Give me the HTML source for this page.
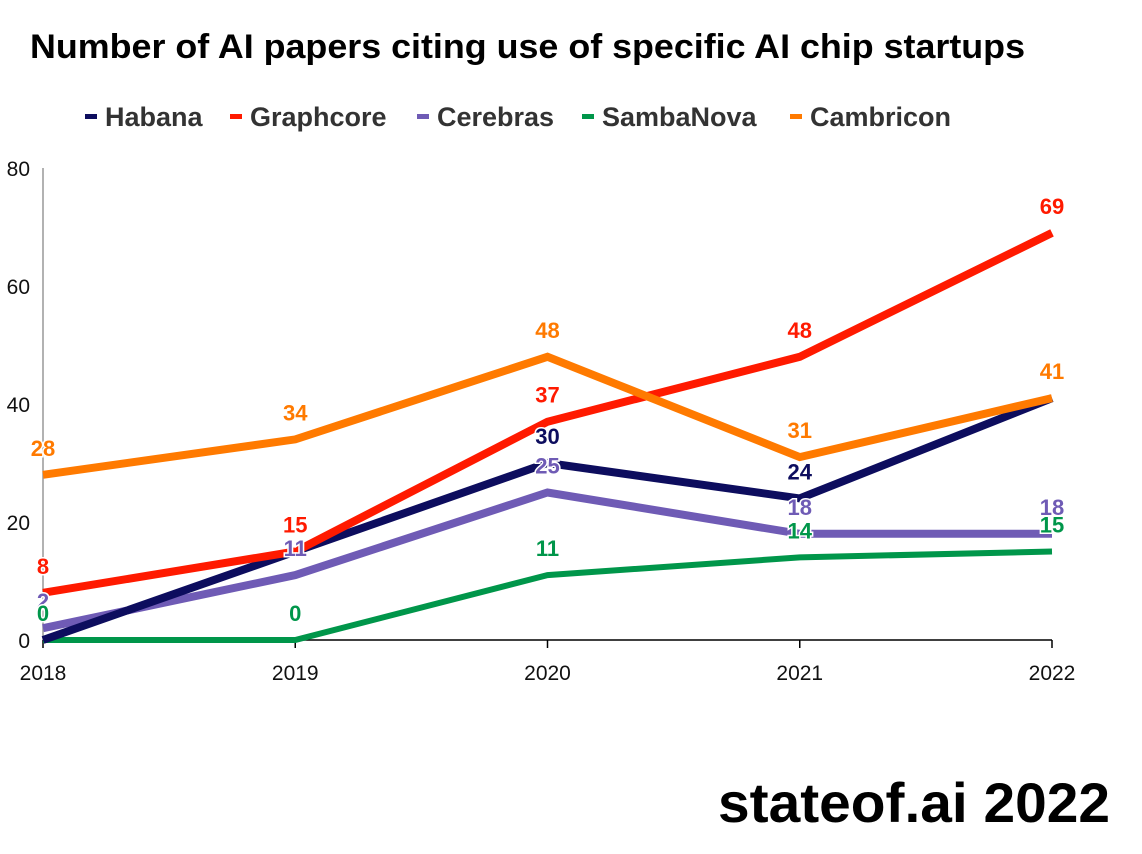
<!DOCTYPE html>
<html><head><meta charset="utf-8"><style>
html,body{margin:0;padding:0;background:#fff;}
svg{display:block;font-family:"Liberation Sans",Arial,sans-serif;}
</style></head><body>
<svg id="chart" width="1142" height="854" viewBox="0 0 1142 854">
<text x="30" y="58" font-size="34" font-weight="bold" fill="#000" textLength="995" lengthAdjust="spacingAndGlyphs" style="font-family:'Liberation Sans Narrow','Liberation Sans',sans-serif">Number of AI papers citing use of specific AI chip startups</text>
<g id="legend"></g>
<g id="axes"></g>
<g id="lines"></g>
<g id="labels"></g>
<text x="718" y="822" font-size="56" font-weight="bold" fill="#000" textLength="392" lengthAdjust="spacingAndGlyphs">stateof.ai 2022</text>
</svg>
<script>
const years = ['2018','2019','2020','2021','2022'];
const yTicks = [0,20,40,60,80];
const seriesNames = ['Habana','Graphcore','Cerebras','SambaNova','Cambricon'];
const habana = [0,15,30,24,41];
const graphcore = [8,15,37,48,69];
const cerebras = [2,11,25,18,18];
const sambanova = [0,0,11,14,15];
const cambricon = [28,34,48,31,41];

const NS='http://www.w3.org/2000/svg';
const colors={Habana:'#0d0d5e',Graphcore:'#ff1a00',Cerebras:'#6f5bb5',SambaNova:'#00964a',Cambricon:'#ff7a00'};
const data={Habana:habana,Graphcore:graphcore,Cerebras:cerebras,SambaNova:sambanova,Cambricon:cambricon};
const x0=43,x1=1052,yb=640,yt=168;
const xs=i=>x0+(x1-x0)*i/(years.length-1);
const ys=v=>yb-(yb-yt)*v/80;
function mk(t,a,p){const e=document.createElementNS(NS,t);for(const k in a)e.setAttribute(k,a[k]);p.appendChild(e);return e;}
const axes=document.getElementById('axes');
let yl=mk('line',{x1:x0,y1:yt,x2:x0,y2:yb,stroke:'#999','stroke-width':1.5},axes);


let xl=mk('line',{x1:x0,y1:yb,x2:x1,y2:yb,stroke:'#000','stroke-width':1.5},axes);


yTicks.forEach(v=>{const t=mk('text',{x:30,y:ys(v)+8,'font-size':21,'text-anchor':'end',fill:'#111'},axes);t.textContent=v;

});
years.forEach((y,i)=>{mk('line',{x1:xs(i),y1:yb,x2:xs(i),y2:yb+8,stroke:'#000','stroke-width':1.5},axes);
const t=mk('text',{x:xs(i),y:680,'font-size':21,'text-anchor':'middle',fill:'#111'},axes);t.textContent=y;

});
const leg=document.getElementById('legend');
const legX=[85,230,417,582,790];
seriesNames.forEach((n,i)=>{const g=mk('g',{},leg);


mk('rect',{x:legX[i],y:114,width:12,height:5,fill:colors[n]},g);
const t=mk('text',{x:legX[i]+20,y:126,'font-size':27,'font-weight':'bold',fill:'#333'},g);t.textContent=n;});
const order=['SambaNova','Cerebras','Habana','Graphcore','Cambricon'];
const lg=document.getElementById('lines');
order.forEach(n=>{const pts=data[n].map((v,i)=>xs(i)+','+ys(v)).join(' ');
const p=mk('polyline',{points:pts,fill:'none',stroke:colors[n],'stroke-width':n==='SambaNova'?6:8,'stroke-linejoin':'miter'},lg);

});
const lb=document.getElementById('labels');
['Habana','Cerebras','SambaNova','Graphcore','Cambricon'].forEach(n=>{data[n].forEach((v,i)=>{
const t=mk('text',{x:xs(i),y:ys(v)-19,'font-size':22,'font-weight':'bold','text-anchor':'middle',fill:colors[n],stroke:'#fff','stroke-width':3,'paint-order':'stroke'},lb);
t.textContent=v;

});});
</script>
</body></html>
